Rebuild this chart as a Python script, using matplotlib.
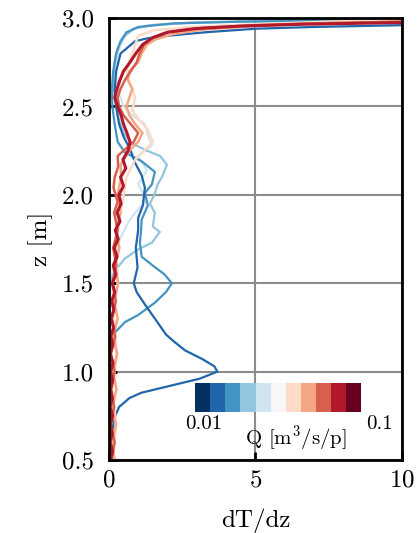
import matplotlib
matplotlib.use('Agg')
import matplotlib.pyplot as plt
import matplotlib.colors as mcolors
import matplotlib.cm as cm

plt.rcParams.update({
    'font.size': 18,
    'font.family': 'serif',
    'font.serif': ['cmr10'],
    'mathtext.fontset': 'cm',
    'axes.formatter.use_mathtext': True,
})

# dT/dz profiles, one per flow rate (light blue -> red)
z_q1 = [0.50, 1.50, 1.55, 1.65, 1.76, 1.84, 1.90, 1.97, 2.06, 2.14, 2.22, 2.28, 2.34, 2.40,
        2.45, 2.50, 2.60, 2.70, 2.80, 2.85, 2.90, 2.94, 2.96, 2.975, 2.985, 2.993]
x_q1 = [0.05, 0.05, 0.10, 0.20, 0.40, 0.65, 0.90, 1.30, 1.00, 1.30, 1.00, 1.47, 1.33, 1.23,
        0.80, 0.50, 0.30, 0.25, 0.30, 0.40, 0.55, 0.90, 1.50, 3.00, 5.50, 10.0]

z_q2 = [0.50, 1.50, 1.55, 1.59, 1.64, 1.69, 1.73, 1.79, 1.82, 1.90, 1.95, 2.00, 2.06, 2.11,
        2.17, 2.22, 2.25, 2.29, 2.35, 2.45, 2.55, 2.65, 2.75, 2.83, 2.90, 2.94, 2.96, 2.975,
        2.985, 2.993]
x_q2 = [0.03, 0.03, 0.15, 0.30, 0.55, 0.99, 1.47, 1.74, 1.50, 1.57, 1.40, 1.55, 1.67, 1.84,
        1.98, 1.75, 1.30, 0.80, 0.50, 0.30, 0.20, 0.15, 0.20, 0.30, 0.55, 0.85, 1.40, 2.80,
        5.50, 10.0]

z_q3 = [0.50, 1.20, 1.22, 1.28, 1.32, 1.39, 1.45, 1.50, 1.55, 1.60, 1.65, 1.73, 1.80, 1.86,
        1.94, 2.01, 2.06, 2.13, 2.19, 2.24, 2.30, 2.40, 2.50, 2.60, 2.70, 2.80, 2.87, 2.92,
        2.95, 2.97, 2.98, 2.99]
x_q3 = [0.03, 0.03, 0.20, 0.55, 1.00, 1.57, 1.95, 2.15, 1.90, 1.50, 1.12, 1.06, 1.10, 1.12,
        1.33, 1.23, 1.47, 1.57, 1.12, 0.55, 0.30, 0.20, 0.12, 0.10, 0.15, 0.25, 0.40, 0.60,
        1.00, 2.20, 4.50, 10.0]

z_q4 = [0.50, 0.60, 0.70, 0.75, 0.80, 0.85, 0.88, 0.92, 0.96, 1.00, 1.03, 1.07, 1.12, 1.18,
        1.21, 1.30, 1.38, 1.45, 1.50, 1.59, 1.70, 1.80, 1.87, 1.94, 2.04, 2.11, 2.18, 2.26,
        2.33, 2.40, 2.50, 2.60, 2.70, 2.80, 2.87, 2.885, 2.90, 2.92, 2.94, 2.95, 2.96]
x_q4 = [0.05, 0.08, 0.15, 0.22, 0.35, 0.70, 1.10, 2.10, 3.10, 3.70, 3.60, 3.20, 2.60, 2.15,
        1.95, 1.57, 1.23, 0.95, 0.85, 0.98, 0.92, 1.00, 1.00, 1.16, 1.23, 1.12, 0.90, 0.72,
        0.50, 0.35, 0.25, 0.20, 0.25, 0.40, 0.90, 1.30, 2.00, 3.30, 5.00, 7.00, 10.0]

z_q5 = [0.50, 0.70, 0.90, 1.10, 1.30, 1.50, 1.70, 1.90, 2.00, 2.10, 2.20, 2.30, 2.37, 2.43,
        2.48, 2.55, 2.60, 2.65, 2.70, 2.75, 2.80, 2.85, 2.90, 2.93, 2.95, 2.965, 2.98, 2.99]
x_q5 = [0.15, 0.25, 0.12, 0.28, 0.15, 0.30, 0.25, 0.40, 0.50, 0.60, 0.90, 1.50, 1.33, 1.00,
        0.80, 0.90, 0.80, 0.65, 0.60, 0.70, 0.80, 0.90, 1.00, 1.50, 2.80, 5.00, 7.50, 10.0]

z_q6 = [0.50, 0.60, 0.70, 0.80, 0.90, 1.00, 1.10, 1.20, 1.30, 1.40, 1.50, 1.60, 1.70, 1.80,
        1.90, 2.00, 2.10, 2.17, 2.25, 2.30, 2.35, 2.40, 2.45, 2.50, 2.55, 2.60, 2.65, 2.70,
        2.75, 2.80, 2.85, 2.88, 2.91, 2.935, 2.955, 2.97, 2.98]
x_q6 = [0.20, 0.10, 0.24, 0.12, 0.26, 0.14, 0.28, 0.15, 0.30, 0.18, 0.32, 0.22, 0.36, 0.25,
        0.40, 0.30, 0.42, 0.40, 0.70, 1.00, 1.15, 0.90, 0.70, 0.60, 0.70, 0.80, 0.65, 0.70,
        1.00, 1.12, 1.30, 1.60, 2.20, 3.20, 5.00, 7.00, 10.0]

z_q7 = [0.50, 0.60, 0.70, 0.80, 0.90, 1.00, 1.10, 1.20, 1.30, 1.40, 1.50, 1.60, 1.70, 1.80,
        1.90, 1.96, 2.04, 2.10, 2.16, 2.22, 2.25, 2.30, 2.35, 2.40, 2.45, 2.50, 2.55, 2.60,
        2.65, 2.70, 2.75, 2.80, 2.85, 2.89, 2.92, 2.945, 2.96, 2.97, 2.98]
x_q7 = [0.08, 0.20, 0.06, 0.18, 0.08, 0.20, 0.07, 0.22, 0.10, 0.24, 0.12, 0.26, 0.15, 0.30,
        0.18, 0.30, 0.16, 0.20, 0.32, 0.30, 0.50, 0.85, 1.00, 0.75, 0.50, 0.35, 0.30, 0.40,
        0.55, 0.75, 0.95, 1.05, 1.20, 1.50, 2.00, 3.20, 5.00, 7.00, 10.0]

z_q8 = [0.50, 0.55, 0.60, 0.65, 0.70, 0.75, 0.80, 0.85, 0.90, 0.95, 1.00, 1.05, 1.10, 1.15,
        1.20, 1.25, 1.30, 1.35, 1.40, 1.45, 1.50, 1.55, 1.60, 1.65, 1.70, 1.75, 1.80, 1.85,
        1.90, 1.95, 2.00, 2.05, 2.10, 2.15, 2.20, 2.25, 2.30, 2.35, 2.40, 2.45, 2.50, 2.55,
        2.60, 2.65, 2.70, 2.75, 2.80, 2.85, 2.89, 2.92, 2.94, 2.955, 2.965, 2.975]
x_q8 = [0.05, 0.13, 0.04, 0.12, 0.05, 0.13, 0.04, 0.12, 0.05, 0.13, 0.06, 0.14, 0.05, 0.13,
        0.07, 0.16, 0.08, 0.17, 0.10, 0.20, 0.12, 0.24, 0.15, 0.28, 0.18, 0.32, 0.22, 0.38,
        0.28, 0.42, 0.34, 0.50, 0.40, 0.58, 0.48, 0.66, 0.72, 0.62, 0.50, 0.42, 0.30, 0.20,
        0.28, 0.38, 0.50, 0.72, 0.92, 1.15, 1.50, 2.00, 2.90, 4.50, 6.50, 10.0]

profiles = [(z_q1, x_q1), (z_q2, x_q2), (z_q3, x_q3), (z_q4, x_q4),
            (z_q5, x_q5), (z_q6, x_q6), (z_q7, x_q7), (z_q8, x_q8)]
line_colors = ['#d1e5f0', '#92c5de', '#4393c3', '#2166ac',
               '#fddbc7', '#f4a582', '#d6604d', '#b2182b']
line_widths = [1.6, 1.6, 1.6, 1.6, 1.8, 1.8, 1.8, 2.2]

fig = plt.figure(figsize=(4.17, 5.33), dpi=100)
ax = fig.add_axes([0.261, 0.137, 0.703, 0.829])

for (zz, xx), c, lw in zip(profiles, line_colors, line_widths):
    ax.plot(xx, zz, color=c, lw=lw)

ax.set_xlim(0, 10)
ax.set_ylim(0.5, 3.0)
ax.set_xticks([0, 5, 10])
ax.set_yticks([0.5, 1.0, 1.5, 2.0, 2.5, 3.0])
ax.set_yticklabels(['0.5', '1.0', '1.5', '2.0', '2.5', '3.0'])
ax.grid(True, color='#8c8c8c', lw=1.5)
ax.set_axisbelow(True)
ax.tick_params(direction='in', length=6, width=2, labelsize=18)
ax.tick_params(axis='y', pad=11)
ax.tick_params(axis='x', pad=7)
for s in ax.spines.values():
    s.set_linewidth(2)
ax.set_xlabel('dT/dz', fontsize=18, labelpad=12)
ax.set_ylabel('z [m]', fontsize=18, labelpad=6)

# discrete colour bar for Q
cmap = plt.get_cmap('RdBu_r', 11)
cax = fig.add_axes([0.468, 0.227, 0.398, 0.054])
sm = cm.ScalarMappable(norm=mcolors.Normalize(0.01, 0.1), cmap=cmap)
cb = fig.colorbar(sm, cax=cax, orientation='horizontal', ticks=[])
cb.outline.set_visible(False)
cax.text(0.054, -0.12, '0.01', transform=cax.transAxes, ha='center', va='top', fontsize=15)
cax.text(1.11, -0.12, '0.1', transform=cax.transAxes, ha='center', va='top', fontsize=15)
cax.text(0.61, -0.40, r'Q $[\mathrm{m^3/s/p}]$', transform=cax.transAxes,
         ha='center', va='top', fontsize=15)

plt.savefig('out.png', dpi=100)
plt.close()
